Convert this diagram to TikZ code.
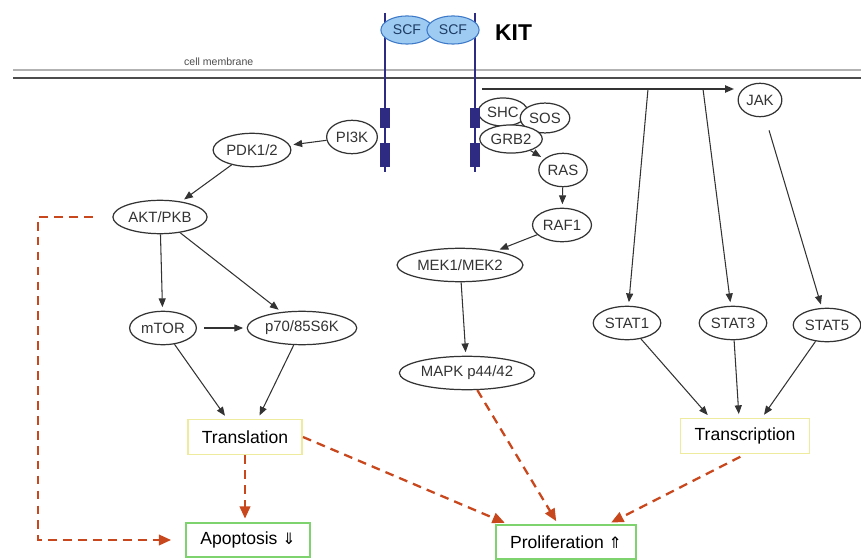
\documentclass[tikz,border=0pt]{standalone}
\usepackage{fontspec}
\setmainfont{Liberation Sans}
\newfontfamily\arrowfont{DejaVu Sans}
\usepackage{xcolor}
\usepackage{tikz}
\usetikzlibrary{arrows.meta, shapes.geometric, calc}
\definecolor{Navy}   {HTML}{2E2B82}
\definecolor{ScfFill}{HTML}{9DCBF2}
\definecolor{ScfLine}{HTML}{3C78C8}
\definecolor{Rust}   {HTML}{C9471C}
\definecolor{Pale}   {HTML}{EEEB9E}
\definecolor{Leaf}   {HTML}{7ED36F}
\definecolor{Ink}    {HTML}{333333}

\begin{document}
\begin{tikzpicture}[x=0.02cm, y=-0.02cm,
    mol/.style={ellipse, draw=Ink, line width=0.7pt, fill=white, inner xsep=1pt,
                inner ysep=2pt, minimum height=19pt, text=Ink,
                font=\fontsize{8.5}{10}\selectfont},
    scf/.style={ellipse, draw=ScfLine, fill=ScfFill, line width=0.6pt, inner xsep=2.5pt,
                inner ysep=0.5pt, minimum height=16pt, text=ScfLine!50!black,
                font=\fontsize{8}{9}\selectfont},
    proc/.style={draw=Pale, line width=0.9pt, fill=white, inner xsep=8pt,
                 minimum height=20pt, font=\fontsize{10}{12}\selectfont},
    fate/.style={draw=Leaf, line width=1.3pt, fill=white, inner xsep=8pt,
                 minimum height=19pt, font=\fontsize{10}{12}\selectfont},
    act/.style={Ink, line width=0.6pt, -{Triangle[length=5pt, width=4pt]}, shorten >=2pt},
    effect/.style={Rust, line width=1.3pt, dash pattern=on 5pt off 3.5pt,
                   -{Triangle[length=7pt, width=6pt]}, shorten >=2pt}]
  \useasboundingbox (0,0) rectangle (861,560);
  % Membrane and receptor
  \draw[gray!60, line width=1.1pt]  (13,70) -- (861,70);
  \draw[black!70, line width=1.1pt] (13,78) -- (861,78);
  \node[anchor=west, font=\fontsize{6}{7}\selectfont, text=black!70] (membrane) at (178,62) {cell membrane};
  \foreach \x in {385,475} {
    \draw[Navy, line width=1.6pt] (\x,13) -- (\x,172);
  }
  \node[scf] (scfL) at (407,30) {SCF};
  \node[scf] (scfR) at (453,30) {SCF};
  \node[anchor=west, font=\fontsize{13}{15}\selectfont\bfseries] (kit) at (489,33) {KIT};

  % PI3K branch
  \node[mol] (PI3K) at (352,137) {PI3K};
  \node[mol] (PDK)  at (252,150) {PDK1/2};
  \node[mol] (AKT)  at (160,217) {AKT/PKB};
  \node[mol] (mTOR) at (163,328) {mTOR};
  \node[mol] (p70)  at (302,328) {p70/85S6K};

  % RAS branch
  \node[mol, inner ysep=1pt, minimum height=16pt] (SHC)  at (503,112) {SHC};
  \node[mol, inner ysep=1pt, minimum height=17pt] (SOS)  at (545,118) {SOS};
  \node[mol, inner ysep=1pt, minimum height=16pt] (GRB2) at (511,139) {GRB2};
  \node[mol] (RAS)  at (563,170) {RAS};
  \node[mol] (RAF1) at (562,225) {RAF1};
  \node[mol] (MEK)  at (460,265) {MEK1/MEK2};
  \node[mol] (MAPK) at (467,373) {MAPK p44/42};

  % Receptor boxes
  \foreach \x in {385,475} {
    \fill[Navy] (\x-5,108) rectangle (\x+5,128);
    \fill[Navy] (\x-5,143) rectangle (\x+5,167);
  }

  % JAK/STAT branch
  \node[mol] (JAK)   at (760,100) {JAK};
  \node[mol] (STAT1) at (627,323) {STAT1};
  \node[mol] (STAT3) at (733,323) {STAT3};
  \node[mol] (STAT5) at (827,325) {STAT5};
  \coordinate (kitR) at (482,89);
  \coordinate (br1)  at (648,89);
  \coordinate (br3)  at (703,89);

  % Outcomes
  \node[proc] (translation)   at (245,437) {Translation};
  \node[proc] (transcription) at (745,436) {Transcription};
  \node[fate] (apoptosis)     at (248,540) {Apoptosis {\arrowfont\fontsize{9}{10}\selectfont ⇓}};
  \node[fate] (proliferation) at (566,542) {Proliferation {\arrowfont\fontsize{9}{10}\selectfont ⇑}};
  \coordinate (bend) at (38,217);

  % Signalling arrows
  \draw[act] (PI3K) -- (PDK);
  \draw[act] (PDK) -- (AKT);
  \draw[act] (AKT) -- (mTOR);
  \draw[act] (AKT) -- (p70);
  \draw[act, shorten <=4pt] (mTOR) -- (p70);
  \draw[act] (mTOR) -- ($(translation.north)+(-18,0)$);
  \draw[act] (p70) -- ($(translation.north)+(13,0)$);
  \draw[act] (GRB2) -- (RAS);
  \draw[act] (RAS) -- (RAF1);
  \draw[act] (RAF1) -- (MEK);
  \draw[act] (MEK) -- (MAPK);
  \draw[act, line width=1pt] (kitR) -- (kitR -| JAK.west);
  \draw[act] (br1) -- (STAT1);
  \draw[act] (br3) -- (STAT3);
  \draw[act, shorten <=8pt] (JAK) -- (STAT5);
  \draw[act] (STAT1) -- ($(transcription.north)+(-35,0)$);
  \draw[act] (STAT3) -- ($(transcription.north)+(-6,0)$);
  \draw[act] (STAT5) -- ($(transcription.north)+(17,0)$);

  % Effects
  \draw[effect, shorten <=11pt, shorten >=8pt] (AKT.west) -- (bend) |- (apoptosis.west);
  \draw[effect] (translation.south) -- (translation.south |- apoptosis.north);
  \draw[effect] (translation.east) -- ($(proliferation.north)+(-58,0)$);
  \draw[effect] (MAPK) -- ($(proliferation.north)+(-8,0)$);
  \draw[effect, shorten <=3pt] (transcription.south) -- ($(proliferation.north)+(42,0)$);
\end{tikzpicture}
\end{document}
